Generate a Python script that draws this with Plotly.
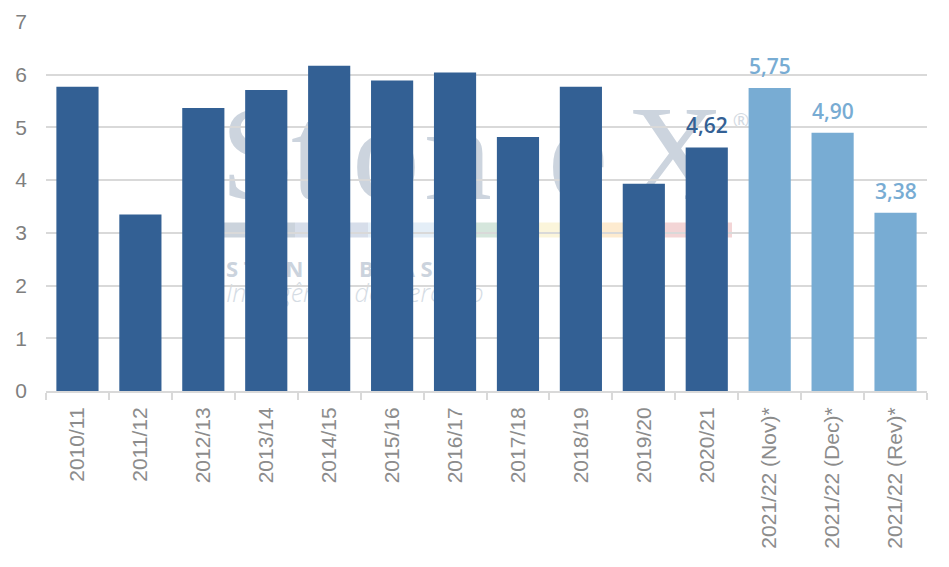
import plotly.graph_objects as go

safras = ["2010/11", "2011/12", "2012/13", "2013/14", "2014/15", "2015/16", "2016/17",
          "2017/18", "2018/19", "2019/20", "2020/21",
          "2021/22 (Nov)*", "2021/22 (Dec)*", "2021/22 (Rev)*"]
valores = [5.77, 3.35, 5.37, 5.71, 6.17, 5.89, 6.04, 4.82, 5.77, 3.93, 4.62, 5.75, 4.90, 3.38]
rotulos = [None] * 10 + ["4,62", "5,75", "4,90", "3,38"]

azul = "#336094"
azul_claro = "#78ACD3"
cores = [azul] * 11 + [azul_claro] * 3

fig = go.Figure()
fig.add_trace(go.Bar(
    x=safras, y=valores, width=0.67,
    marker=dict(color=cores, line=dict(width=0)),
    hoverinfo="x+y",
))

# rótulos de valor acima das barras
for s, v, r, c in zip(safras, valores, rotulos, cores):
    if r is None:
        continue
    fig.add_annotation(x=s, y=v, text=r, showarrow=False, yanchor="bottom", yshift=6,
                       font=dict(family="Open Sans", size=21, color=c, weight=600))


# marca d'água (logo StoneX) atrás das barras e da grade
# posições em pixels da área do gráfico (0..881 x 0..369)
def px_x(p):
    return (p - 46) / 881


def px_y(p):
    return (391.4 - p) / 369


def texto_fundo(txt, x0, x1, y, h, font, pos="middle center"):
    fig.add_shape(type="rect", xref="paper", yref="paper", layer="below",
                  x0=x0, x1=x1, y0=y - h / 2, y1=y + h / 2,
                  fillcolor="rgba(0,0,0,0)", line=dict(width=0),
                  label=dict(text=txt, font=font, textposition=pos, padding=0))


fonte_logo = dict(family="Liberation Serif", size=136, color="#CCD4DE")
for letra, cx in zip("StoneX", [258, 310, 386, 458, 578, 675]):
    texto_fundo(letra, px_x(cx - 40), px_x(cx + 40), px_y(138), 0.3, fonte_logo)
texto_fundo("®", px_x(730), px_x(752), px_y(122), 0.06,
            dict(family="Open Sans", size=20, color="#D3DAE2"))
texto_fundo("S T O N E X   B R A S I L", px_x(223), px_x(600), px_y(270), 0.07,
            dict(family="Open Sans", size=22, color="#CBD3DD", weight=700), "middle left")
texto_fundo("Inteligência de Mercado", px_x(223), px_x(700), px_y(294), 0.07,
            dict(family="Open Sans", size=25, color="#D5DCE4", weight=300, style="italic"),
            "middle left")

faixa_x = [223, 295, 368, 475, 530, 590, 650, 732]
faixa_cores = ["#CBD3DC", "#D7DEEA", "#E4EEF7", "#D5E6DC", "#FBF5DB", "#FDEBD0", "#F3D5D6"]
for i, cor in enumerate(faixa_cores):
    fig.add_shape(type="rect", xref="paper", yref="paper", layer="below",
                  x0=px_x(faixa_x[i]), x1=px_x(faixa_x[i + 1]),
                  y0=px_y(238), y1=px_y(223),
                  fillcolor=cor, line=dict(width=0))

# a página tem 8px de margem no body, por isso as margens estão deslocadas
fig.update_layout(
    width=949, height=567,
    margin=dict(l=38, r=30, t=14, b=184, autoexpand=False),
    paper_bgcolor="white",
    plot_bgcolor="rgba(0,0,0,0)",
    showlegend=False,
    bargap=0.33,
    xaxis=dict(
        type="category",
        tickson="boundaries",
        ticks="outside", ticklen=7, tickwidth=1.5, tickcolor="#D9D9D9",
        showline=True, linecolor="#D9D9D9", linewidth=2,
        tickangle=-90,
        ticklabelstandoff=6,
        tickfont=dict(family="Liberation Sans", size=21, color="#8C8C8C"),
        showgrid=False,
    ),
    yaxis=dict(
        range=[0, 7], dtick=1,
        showgrid=True, gridcolor="#D9D9D9", gridwidth=1.5,
        showline=False, zeroline=False, ticks="",
        ticklabelstandoff=18,
        tickfont=dict(family="Liberation Sans", size=21, color="#7F7F7F"),
    ),
)

fig.write_html("out.html")
